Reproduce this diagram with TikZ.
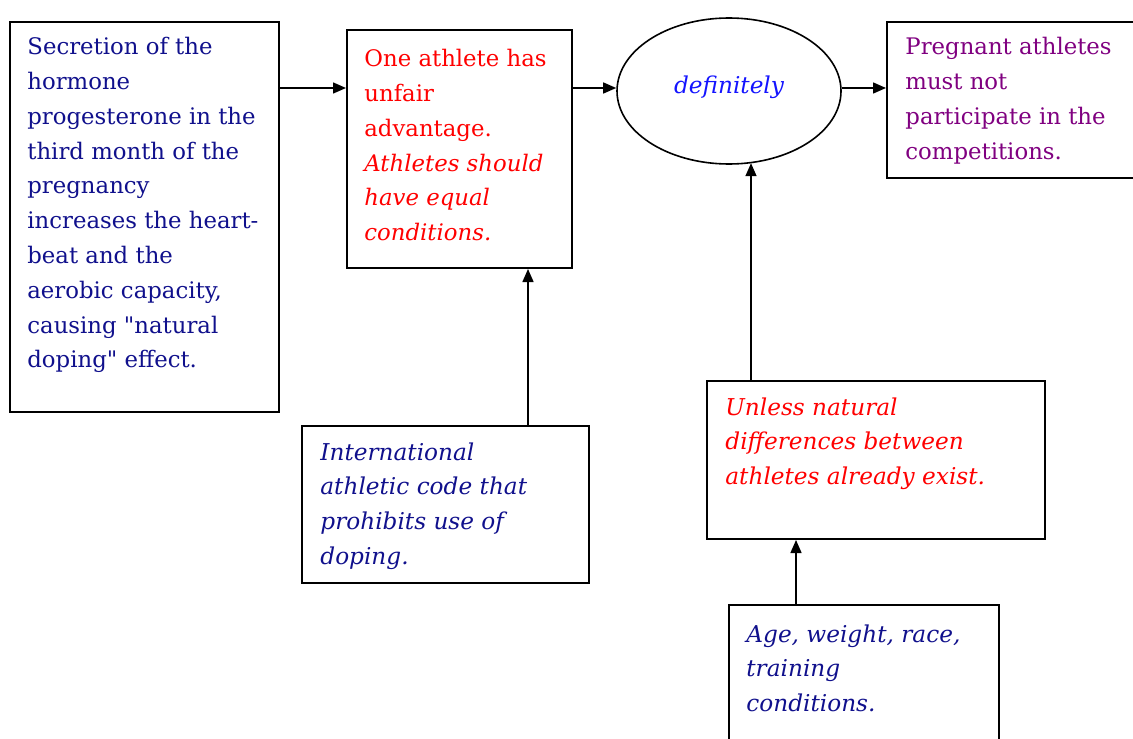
\documentclass[tikz,border=0pt]{standalone}
\usepackage{fontspec}
\setmainfont{DejaVu Serif}
\usetikzlibrary{arrows.meta,fit,shapes.geometric}
\definecolor{navytxt}{RGB}{16,16,140}
\definecolor{redtxt}{RGB}{255,0,0}
\definecolor{purpletxt}{RGB}{128,0,128}
\definecolor{bluetxt}{RGB}{20,20,255}
\begin{document}
\begin{tikzpicture}[x=0.5pt,y=-0.5pt,
  box/.style={draw, line width=1pt, inner sep=0pt},
  txt/.style={align=left, inner sep=0pt, anchor=north west,
    font=\fontsize{11.4}{17.4}\selectfont},
  ittxt/.style={txt, font=\fontsize{11.6}{17.4}\selectfont\itshape},
  arr/.style={line width=0.75pt, -{Triangle[length=6.5pt,width=5.5pt]}}]
\useasboundingbox (0,0) rectangle (1133,738);

% boxes
\node[box, fit={(10,22) (279,412)}] (A) {};
\node[box, fit={(347,30) (572,268)}] (B) {};
\node[draw, line width=0.8pt, ellipse, inner sep=0pt, minimum width=112pt, minimum height=73pt] (ell) at (729,91) {};
\node[box, fit={(887,22) (1145,178)}] (C) {};
\node[box, fit={(302,426) (589,583)}] (D) {};
\node[box, fit={(707,381) (1045,539)}] (U) {};
\node[box, fit={(729,605) (999,760)}] (F) {};

% texts
\node[txt, text=navytxt] (At) at (27,37) {Secretion of the\\hormone\\progesterone in the\\third month of the\\pregnancy\\increases the heart-\\beat and the\\aerobic capacity,\\causing \textquotedbl natural\\doping\textquotedbl{} effect.};
\node[txt, text=redtxt] (Bt) at (364,49) {One athlete has\\unfair\\advantage.\\\itshape Athletes should\\\itshape have equal\\\itshape conditions.};
\node[inner sep=0pt, text=bluetxt, font=\fontsize{11.6}{17.4}\selectfont\itshape] (et) at (729,87) {definitely};
\node[txt, text=purpletxt] (Ct) at (905,37) {Pregnant athletes\\must not\\participate in the\\competitions.};
\node[ittxt, text=navytxt] (Dt) at (320,442) {International\\athletic code that\\prohibits use of\\doping.};
\node[ittxt, text=redtxt] (Ut) at (725,397) {Unless natural\\differences between\\athletes already exist.};
\node[ittxt, text=navytxt] (Ft) at (746,624) {Age, weight, race,\\training\\conditions.};

% connectors
\draw[arr] (A.east |- 0,88) -- (B.west |- 0,88);
\draw[arr] (B.east |- 0,88) -- (ell.west |- 0,88);
\draw[arr] (ell.east |- 0,88) -- (C.west |- 0,88);
\draw[arr] ([xshift=-31pt]D.north east) -- ([xshift=-31pt]D.north east |- B.south);
\draw[arr] ([xshift=22.5pt]U.north west) -- ([xshift=22.5pt]U.north west |- ell.-72);
\draw[arr] ([xshift=34pt]F.north west) -- ([xshift=34pt]F.north west |- U.south);
\end{tikzpicture}
\end{document}
